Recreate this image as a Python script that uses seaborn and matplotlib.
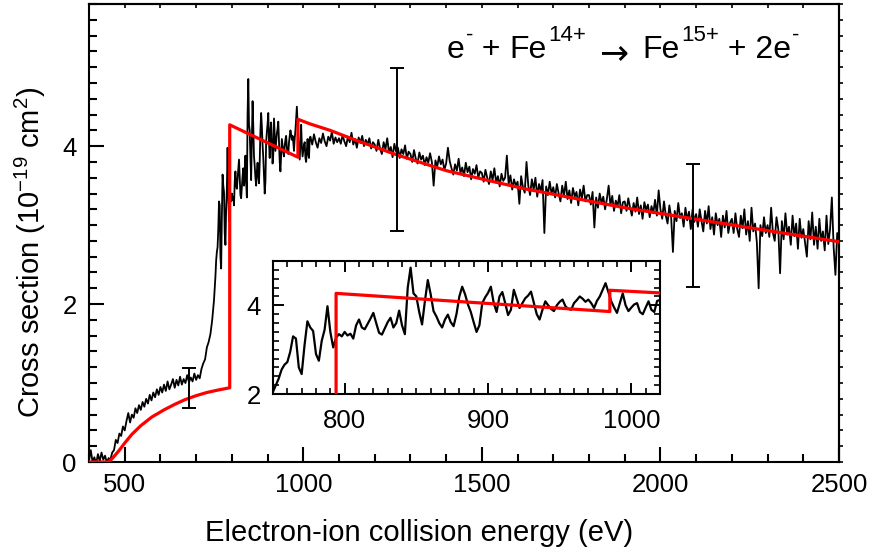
import numpy as np
import pandas as pd
import matplotlib
matplotlib.use("Agg")
import matplotlib.pyplot as plt
import seaborn as sns
from matplotlib.ticker import MultipleLocator, FixedLocator

# ---------------- data ----------------
# measured cross section, low-energy part: 400 eV onward, 5 eV steps
low_start, low_step = 400, 5
low_sigma = [0.02, 0.15, 0.00, 0.06, -0.02, 0.10, 0.01, 0.12, 0.03, 0.08, -0.01, 0.05,
             0.03, 0.12, 0.15, 0.28, 0.24, 0.36, 0.33, 0.45, 0.40, 0.52,
             0.62, 0.50, 0.60, 0.56, 0.68, 0.62, 0.72, 0.66, 0.76, 0.70,
             0.80, 0.74, 0.85, 0.78, 0.88, 0.82, 0.92, 0.85, 0.95, 0.88,
             0.98, 0.90, 1.02, 0.92, 0.98, 1.05, 0.94, 1.04, 0.97, 1.08,
             0.98, 1.05, 1.00, 1.10, 1.01, 1.07, 1.02, 1.12, 1.04, 1.10,
             1.06, 1.18, 1.25, 1.30, 1.45, 1.52, 1.62, 1.80]

# measured cross section, resonance region: 750 eV onward, 2 eV steps
mid_start, mid_step = 750, 2
mid_sigma = [2.05, 2.20, 2.35, 2.55, 2.66, 2.72, 2.95, 3.30, 3.25, 2.60,
             2.45, 3.10, 3.64, 3.50, 3.42, 2.90, 2.75, 3.20, 3.45, 3.98,
             3.40, 3.05, 3.27, 3.35, 3.30, 3.40, 3.32, 3.36, 3.25, 3.55,
             3.68, 3.50, 3.46, 3.58, 3.70, 3.83, 3.60, 3.38, 3.34, 3.48,
             3.62, 3.72, 3.50, 3.60, 3.88, 3.55, 3.35, 4.40, 4.85, 4.27,
             4.20, 3.85, 3.57, 4.10, 4.57, 4.25, 3.87, 3.75, 3.60, 3.50,
             3.68, 3.79, 3.62, 3.53, 3.80, 4.20, 4.42, 4.25, 4.02, 3.85,
             3.62, 3.40, 3.55, 4.05, 4.18, 4.28, 4.42, 4.05, 3.85, 4.20,
             4.30, 4.05, 3.78, 3.90, 4.35, 4.15, 3.94, 4.05, 4.16, 4.22,
             4.31, 4.05, 3.80, 3.68, 3.90, 4.09, 4.00, 3.92, 3.87, 4.00,
             4.08, 4.13, 3.98, 3.92, 3.90, 4.05, 4.12, 4.20, 4.15, 4.08,
             4.13, 4.05, 3.94, 4.10, 4.20, 4.35, 4.50, 4.30, 4.09, 3.95,
             3.83, 4.05, 4.27, 4.00, 3.87, 3.95, 4.02, 4.05, 3.85, 3.80,
             3.95, 4.09, 3.90, 3.85, 4.10]

# measured cross section, high-energy part: 1020 eV onward, 5 eV steps
high_start, high_step = 1020, 5
high_sigma = [4.12, 4.02, 4.15, 4.05, 3.98, 4.10, 4.04, 4.16, 4.06, 4.00, 4.12, 4.07, 4.18, 4.03, 4.11, 4.05,
              4.10, 4.03, 4.14, 4.06, 4.00, 4.12, 4.05, 4.17, 4.02, 4.09, 3.98, 4.11, 4.04, 4.13, 4.00, 4.08, 4.02, 4.10, 3.97, 4.05,
              4.02, 3.94, 4.08, 3.97, 3.90, 4.05, 3.96, 4.10, 3.92, 3.99, 3.86, 4.03, 3.93, 3.98, 3.85, 3.96, 3.90, 4.01, 3.84, 3.93,
              3.90, 3.80, 3.95, 3.84, 3.78, 3.92, 3.83, 3.88, 3.76, 3.86, 3.79, 3.91, 3.80, 3.50, 3.82, 3.74, 3.87, 3.77, 3.83, 3.70,
              3.78, 3.98, 3.81, 3.72, 3.64, 3.77, 3.69, 3.84, 3.66, 3.73, 3.62, 3.79, 3.67, 3.74, 3.58, 3.71, 3.65, 3.76, 3.60, 3.68,
              3.66, 3.55, 3.70, 3.60, 3.52, 3.68, 3.57, 3.72, 3.54, 3.62, 3.49, 3.65, 3.56, 3.60, 3.88, 3.52, 3.63, 3.45, 3.58, 3.50,
              3.55, 3.27, 3.62, 3.48, 3.41, 3.80, 3.50, 3.38, 3.58, 3.45, 3.60, 3.36, 3.52, 3.43, 3.57, 2.90, 3.49, 3.38, 3.55, 3.40,
              3.48, 3.35, 3.52, 3.40, 3.30, 3.50, 3.37, 3.55, 3.33, 3.44, 3.28, 3.47, 3.36, 3.42, 3.25, 3.45, 3.34, 3.50, 3.30, 3.38,
              3.38, 3.26, 3.42, 2.97, 3.35, 3.22, 3.40, 3.28, 3.36, 3.20, 3.33, 3.50, 3.25, 3.37, 3.18, 3.31, 3.24, 3.38, 3.15, 3.29,
              3.30, 3.18, 3.34, 3.22, 3.12, 3.28, 3.17, 3.35, 3.14, 3.25, 3.08, 3.29, 3.19, 3.26, 3.10, 3.24, 3.15, 3.32, 3.12, 3.44,
              3.20, 3.08, 3.30, 3.12, 3.02, 3.25, 3.10, 2.66, 3.18, 3.05, 3.28, 3.09, 3.15, 2.98, 3.22, 3.06, 3.17, 2.95, 3.20, 3.04,
              3.14, 2.98, 3.20, 3.05, 2.92, 3.18, 3.02, 3.24, 2.95, 3.10, 2.88, 3.15, 3.00, 3.08, 2.85, 3.12, 2.97, 3.18, 2.90, 3.03,
              3.08, 2.90, 3.15, 2.95, 2.85, 3.12, 2.96, 3.20, 2.88, 3.05, 2.80, 3.22, 2.92, 3.02, 2.78, 2.20, 3.00, 2.86, 3.10, 2.90,
              3.00, 2.85, 3.22, 2.90, 2.80, 3.10, 2.95, 2.39, 3.05, 2.82, 3.15, 2.88, 2.98, 2.75, 3.12, 2.86, 3.02, 2.70, 3.08, 2.84,
              2.95, 2.78, 2.60, 3.05, 2.82, 3.16, 2.75, 2.98, 2.70, 3.08, 2.80, 2.92, 2.68, 3.12, 2.76, 2.95, 3.35, 2.72, 2.37, 2.90, 2.80]

# theoretical model (red curve)
model_energy = [400, 456, 470, 485, 500, 520, 545, 576, 610, 640, 669, 700, 730, 760, 794,
                794, 985, 985, 1020, 1075, 1150, 1262, 1400, 1523, 1620, 1747, 1900, 2093, 2300, 2500]
model_sigma = [0, 0, 0.07, 0.15, 0.24, 0.35, 0.46, 0.57, 0.66, 0.73, 0.79, 0.84, 0.88, 0.91, 0.94,
               4.27, 3.86, 4.34, 4.28, 4.20, 4.07, 3.89, 3.69, 3.56, 3.46, 3.35, 3.22, 3.08, 2.93, 2.79]

# representative error bars
err_energy = [680, 1262, 2090]
err_center = [0.94, 3.96, 3.00]
err_half = [0.25, 1.03, 0.78]

# reaction label pieces: (text, kind)
reaction_parts = [("e", "n"), ("-", "s"), (" + ", "n"), ("Fe", "n"), ("14+", "s"),
                  ("\u2192", "a"), ("Fe", "n"), ("15+", "s"),
                  (" + 2e", "n"), ("-", "s")]

# ---------------- build tables ----------------
def grid(start, step, vals):
    return start + step * np.arange(len(vals))

data_df = pd.DataFrame({
    "energy": np.concatenate([grid(low_start, low_step, low_sigma),
                              grid(mid_start, mid_step, mid_sigma),
                              grid(high_start, high_step, high_sigma)]),
    "sigma": np.concatenate([low_sigma, mid_sigma, high_sigma]),
})
model_df = pd.DataFrame({"energy": model_energy, "sigma": model_sigma})

# ---------------- style ----------------
sns.set_theme(style="ticks")
plt.rcParams.update({
    "font.family": ["Liberation Sans", "DejaVu Sans"],
    "mathtext.fontset": "custom",
    "mathtext.rm": "Liberation Sans",
    "mathtext.it": "Liberation Sans:italic",
    "mathtext.bf": "Liberation Sans:bold",
    "mathtext.sf": "Liberation Sans",
    "axes.edgecolor": "black",
    "axes.linewidth": 1.5,
    "xtick.color": "black",
    "ytick.color": "black",
    "text.color": "black",
    "axes.labelcolor": "black",
    "axes.facecolor": "white",
})

W, H = 871, 552
fig = plt.figure(figsize=(W / 100, H / 100), dpi=100)
TICK_FS = 18.5

# ---------------- main axes ----------------
ax = fig.add_axes([89 / W, 1 - 462 / H, 750 / W, 458 / H])
sns.lineplot(data=data_df, x="energy", y="sigma", estimator=None, sort=False,
             color="black", linewidth=1.3, ax=ax, zorder=2)
sns.lineplot(data=model_df, x="energy", y="sigma", estimator=None, sort=False,
             color="red", linewidth=2.3, ax=ax, zorder=3)
ax.errorbar(err_energy, err_center, yerr=err_half, fmt="none", ecolor="black",
            elinewidth=1.4, capsize=5, capthick=1.4, zorder=4)

ax.set_xlim(400, 2500)
ax.set_ylim(0, 5.8)
ax.xaxis.set_major_locator(MultipleLocator(500))
ax.xaxis.set_minor_locator(MultipleLocator(100))
ax.yaxis.set_major_locator(FixedLocator([0, 2, 4]))
ax.yaxis.set_minor_locator(MultipleLocator(0.2))
ax.tick_params(which="major", direction="in", length=11, width=1.5, labelsize=TICK_FS)
ax.tick_params(which="minor", direction="in", length=6, width=1.5)
ax.tick_params(axis="x", pad=8)
ax.tick_params(axis="y", pad=9)
ax.set_xlabel("")
ax.set_ylabel("")
for s in ax.spines.values():
    s.set_linewidth(1.5)
    s.set_visible(True)

top = ax.secondary_xaxis("top")
top.xaxis.set_major_locator(MultipleLocator(100))
top.tick_params(direction="in", length=3, width=1.2, labeltop=False, labelbottom=False)
right = ax.secondary_yaxis("right")
right.yaxis.set_major_locator(MultipleLocator(0.2))
right.tick_params(direction="out", length=3, width=1.2, labelright=False, labelleft=False)

# ---------------- inset ----------------
axi = fig.add_axes([273 / W, 1 - 394 / H, 387 / W, 133 / H])
sns.lineplot(data=data_df, x="energy", y="sigma", estimator=None, sort=False,
             color="black", linewidth=1.6, ax=axi, zorder=2)
sns.lineplot(data=model_df, x="energy", y="sigma", estimator=None, sort=False,
             color="red", linewidth=2.3, ax=axi, zorder=3)
axi.set_xlim(750, 1020)
axi.set_ylim(2, 5)
axi.xaxis.set_major_locator(FixedLocator([800, 900, 1000]))
axi.xaxis.set_minor_locator(MultipleLocator(10))
axi.yaxis.set_major_locator(FixedLocator([2, 4]))
axi.yaxis.set_minor_locator(MultipleLocator(0.2))
axi.tick_params(which="both", direction="in", top=True, right=True)
axi.tick_params(which="major", length=8, width=1.4, labelsize=TICK_FS)
axi.tick_params(which="minor", length=4.5, width=1.2)
axi.tick_params(axis="x", pad=11)
axi.tick_params(axis="y", pad=9)
axi.set_xlabel("")
axi.set_ylabel("")
for s in axi.spines.values():
    s.set_linewidth(1.5)

# ---------------- texts ----------------
fig.text(419 / W, 1 - 541 / H, "Electron-ion collision energy (eV)",
         ha="center", va="baseline", fontsize=21)
fig.text(30 / W, 1 - 252 / H, r"Cross section (10$^{-19}$ cm$^{2}$)",
         ha="center", va="center", rotation=90, fontsize=21)

# reaction label, laid out piece by piece so superscripts sit tight
renderer = fig.canvas.get_renderer()
x_px = 447.0
base_px = H - 58.0
for txt, kind in reaction_parts:
    if kind == "s":
        fs, dy, fam, gap_before, gap_after = 16, 17, ["Liberation Sans"], 1, 0
    elif kind == "a":
        fs, dy, fam, gap_before, gap_after = 25, -5, ["DejaVu Sans"], 13, 15
    else:
        fs, dy, fam, gap_before, gap_after = 23, 0, ["Liberation Sans"], 0, 0
    x_px += gap_before
    t = fig.text(x_px / W, (base_px + dy) / H, txt, ha="left", va="baseline",
                 fontsize=fs, family=fam)
    bb = t.get_window_extent(renderer=renderer)
    x_px += bb.width + gap_after

fig.savefig("out.png", dpi=100)
